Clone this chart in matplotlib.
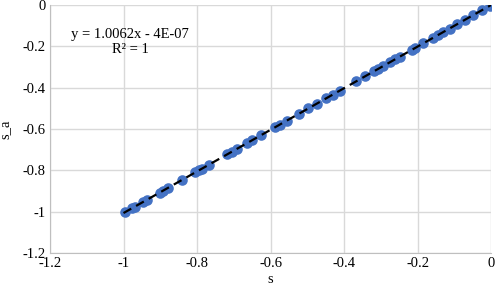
import numpy as np
import matplotlib.pyplot as plt

s = [-0.996, -0.978, -0.969, -0.946, -0.937, -0.901, -0.892, -0.878, -0.842,
     -0.805, -0.794, -0.787, -0.767, -0.719, -0.706, -0.692, -0.664, -0.651,
     -0.626, -0.588, -0.574, -0.556, -0.522, -0.497, -0.474, -0.449, -0.431,
     -0.411, -0.367, -0.343, -0.318, -0.307, -0.293, -0.275, -0.261, -0.248,
     -0.216, -0.207, -0.184, -0.157, -0.143, -0.130, -0.113, -0.093, -0.071,
     -0.050, -0.025, -0.003]
s_a = [-1.002, -0.984, -0.975, -0.952, -0.943, -0.907, -0.898, -0.883, -0.847,
       -0.810, -0.799, -0.792, -0.772, -0.723, -0.710, -0.696, -0.668, -0.655,
       -0.630, -0.592, -0.578, -0.559, -0.525, -0.500, -0.477, -0.452, -0.434,
       -0.414, -0.369, -0.345, -0.320, -0.309, -0.295, -0.277, -0.263, -0.250,
       -0.217, -0.208, -0.185, -0.158, -0.144, -0.131, -0.114, -0.094, -0.071,
       -0.050, -0.025, -0.003]
ticks = [-1.2, -1, -0.8, -0.6, -0.4, -0.2, 0]
tick_labels = ['-1.2', '-1', '-0.8', '-0.6', '-0.4', '-0.2', '0']

plt.rcParams['font.family'] = ['Liberation Serif', 'DejaVu Serif']

fig = plt.figure(figsize=(4.96, 2.86), dpi=100)
ax = fig.add_axes([0.1008, 0.115, 0.8892, 0.8675])

ax.scatter(s, s_a, s=58, color='#4472C4', zorder=3, linewidths=0)

k, b = np.polyfit(s, s_a, 1)
xs = np.array([-1.0, 0.0])
ax.plot(xs, k * xs + b, color='black', linestyle=(0, (4, 2.5)), linewidth=1.6, zorder=4)

ax.text(-0.982, -0.145, 'y = 1.0062x - 4E-07', ha='center', va='center', fontsize=10.5)
ax.text(-0.982, -0.215, 'R\u00b2 = 1', ha='center', va='center', fontsize=10.5)

ax.set_xlim(-1.2, 0)
ax.set_ylim(-1.2, 0)
ax.set_xticks(ticks)
ax.set_xticklabels(tick_labels)
ax.set_yticks(ticks)
ax.set_yticklabels(tick_labels)
ax.tick_params(length=0, labelsize=10.5, pad=3)
ax.grid(True, color='#d9d9d9', linewidth=1)
ax.set_axisbelow(True)
for side in ['top', 'right']:
    ax.spines[side].set_visible(False)
for side in ['left', 'bottom']:
    ax.spines[side].set_color('#bfbfbf')

ax.set_xlabel('s', fontsize=10.5, labelpad=2)
ax.set_ylabel('s_a', fontsize=10.5, labelpad=8)

fig.savefig('out.png', dpi=100)
